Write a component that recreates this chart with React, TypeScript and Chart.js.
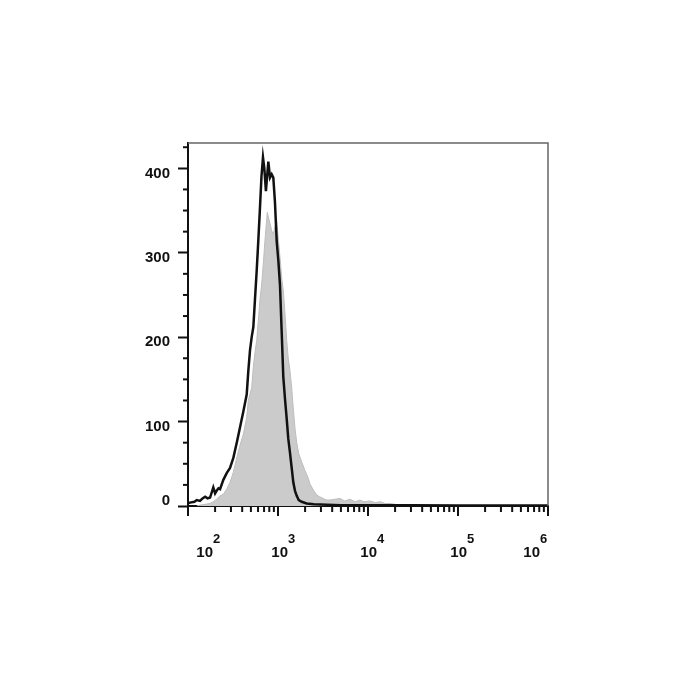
import React, { useEffect, useRef } from "react";
import { Chart, registerables } from "chart.js";

Chart.register(...registerables);

// Black (outline) histogram: fluorescence intensity vs. count
const blackX = [100, 105, 118, 125, 136, 145, 155, 165, 176, 191, 200, 208, 218, 227, 247, 269, 293, 319, 348, 378, 412, 449, 468, 489, 510, 532, 555, 580, 604, 631, 655, 681, 705, 734, 781, 815, 851, 887, 925, 967, 1010, 1052, 1100, 1145, 1200, 1250, 1300, 1359, 1420, 1479, 1545, 1614, 1700, 1834, 2084, 2500, 3500, 5000, 10000, 30000, 100000, 1000000];
const blackY = [3, 4, 5, 7, 6, 9, 11, 9, 10, 22, 15, 18, 21, 20, 31, 39, 45, 57, 75, 93, 112, 132, 160, 185, 200, 212, 245, 279, 314, 354, 390, 413, 400, 373, 408, 389, 393, 389, 360, 314, 290, 262, 205, 153, 125, 103, 80, 63, 45, 28, 18, 12, 7, 5, 3, 2, 1.5, 1, 1, 0.8, 0.5, 0.5];

// Grey (filled) histogram
const greyX = [125, 136, 155, 176, 191, 208, 227, 247, 269, 293, 319, 348, 378, 412, 449, 468, 510, 532, 555, 580, 605, 631, 659, 690, 717, 761, 790, 815, 851, 887, 920, 967, 1010, 1052, 1100, 1145, 1200, 1250, 1300, 1359, 1420, 1479, 1545, 1614, 1700, 1834, 1995, 2150, 2268, 2500, 2692, 2900, 3162, 3500, 3782, 4300, 4887, 5500, 6310, 7200, 8150, 9000, 10525, 12000, 13594, 15500, 17556, 20000, 22677, 26000];
const greyY = [0, 1, 2, 3, 5, 8, 12, 14, 20, 28, 40, 57, 72, 85, 105, 125, 140, 165, 182, 196, 220, 245, 263, 290, 315, 348, 340, 335, 326, 322, 330, 338, 315, 295, 270, 255, 225, 196, 175, 160, 140, 115, 92, 75, 62, 52, 42, 34, 26, 18, 13, 11, 9, 7, 7, 8, 9, 6, 8, 5, 7, 5, 6, 4, 5, 3, 3, 2, 1, 0];

const yTickValues = [0, 100, 200, 300, 400];
const yLabelShift = [-5, 5, 5, 5, 6];
const xDecades = [100, 1000, 10000, 100000, 1000000];
const xExponents = ["2", "3", "4", "5", "6"];
const xLabelShift = [25, 10, 9, 9, -8];

const FONT = "'Liberation Sans', Arial, sans-serif";

const decorPlugin = {
  id: "decor",
  afterDraw(chart: any) {
    const ctx = chart.ctx;
    const area = chart.chartArea;
    const xs = chart.scales.x;
    const ys = chart.scales.y;
    ctx.save();
    // top and right frame
    ctx.strokeStyle = "#666";
    ctx.lineWidth = 1.5;
    ctx.beginPath();
    ctx.moveTo(area.left, area.top);
    ctx.lineTo(area.right, area.top);
    ctx.lineTo(area.right, area.bottom);
    ctx.stroke();

    // x ticks
    ctx.strokeStyle = "#111";
    ctx.lineWidth = 2;
    for (let i = 0; i < xDecades.length; i++) {
      const d = xDecades[i];
      const px = xs.getPixelForValue(d);
      ctx.beginPath();
      ctx.moveTo(px, area.bottom);
      ctx.lineTo(px, area.bottom + 10);
      ctx.stroke();
      if (i < xDecades.length - 1) {
        for (let k = 2; k <= 9; k++) {
          const mx = xs.getPixelForValue(d * k);
          ctx.beginPath();
          ctx.moveTo(mx, area.bottom);
          ctx.lineTo(mx, area.bottom + 6);
          ctx.stroke();
        }
      }
    }
    // y minor ticks
    for (let v = 25; v <= 425; v += 25) {
      if (v % 100 === 0) continue;
      const py = ys.getPixelForValue(v);
      if (py < area.top) continue;
      ctx.beginPath();
      ctx.moveTo(area.left, py);
      ctx.lineTo(area.left - 5, py);
      ctx.stroke();
    }

    // y labels
    ctx.fillStyle = "#111";
    ctx.font = `bold 15px ${FONT}`;
    ctx.textAlign = "right";
    ctx.textBaseline = "middle";
    for (let i = 0; i < yTickValues.length; i++) {
      const py = ys.getPixelForValue(yTickValues[i]) + yLabelShift[i];
      ctx.fillText(String(yTickValues[i]), area.left - 18, py);
    }

    // x labels 10^n
    ctx.textBaseline = "alphabetic";
    for (let i = 0; i < xDecades.length; i++) {
      const px = xs.getPixelForValue(xDecades[i]) + xLabelShift[i];
      ctx.font = `bold 15px ${FONT}`;
      ctx.textAlign = "right";
      ctx.fillText("10", px, area.bottom + 51);
      ctx.font = `bold 13px ${FONT}`;
      ctx.textAlign = "left";
      ctx.fillText(xExponents[i], px, area.bottom + 37);
    }
    ctx.restore();
  },
};

export default function App() {
  const ref = useRef<HTMLCanvasElement | null>(null);
  useEffect(() => {
    if (!ref.current) return;
    const chart = new Chart(ref.current, {
      type: "line",
      data: {
        datasets: [
          {
            label: "black",
            data: blackX.map((x, i) => ({ x, y: blackY[i] })),
            borderColor: "#111",
            borderWidth: 2.5,
            pointRadius: 0,
            fill: false,
            tension: 0,
          },
          {
            label: "grey",
            data: greyX.map((x, i) => ({ x, y: greyY[i] })),
            borderColor: "#bdbdbd",
            backgroundColor: "#cbcbcb",
            borderWidth: 1,
            pointRadius: 0,
            fill: "origin",
            tension: 0,
          },
        ],
      },
      options: {
        responsive: false,
        animation: false,
        layout: { padding: { left: 0, top: 143, right: 152, bottom: 194 } },
        plugins: { legend: { display: false }, tooltip: { enabled: false } },
        scales: {
          x: {
            type: "logarithmic",
            min: 100,
            max: 1000000,
            grid: { display: false },
            ticks: { display: false },
            border: { display: true, color: "#111", width: 2 },
            afterFit: (s: any) => {
              s.height = 0;
            },
          },
          y: {
            type: "linear",
            min: 0,
            max: 430,
            afterBuildTicks: (s: any) => {
              s.ticks = yTickValues.map((v) => ({ value: v }));
            },
            grid: {
              display: true,
              drawOnChartArea: false,
              drawTicks: true,
              tickLength: 10,
              tickColor: "#111",
              tickWidth: 2,
            },
            border: { display: true, color: "#111", width: 2 },
            ticks: { display: false },
            afterFit: (s: any) => {
              s.width = 188;
            },
          },
        },
      },
      plugins: [decorPlugin],
    });
    return () => chart.destroy();
  }, []);
  return (
    <div style={{ position: "absolute", left: 0, top: 0, width: 700, height: 700, background: "#fff" }}>
      <canvas ref={ref} width={700} height={700} />
    </div>
  );
}
